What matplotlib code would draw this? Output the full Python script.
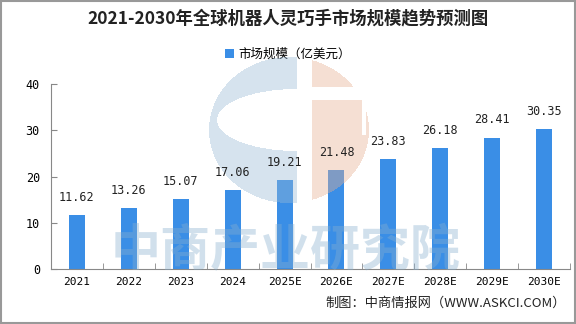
import matplotlib.pyplot as plt
from matplotlib.patches import Rectangle
import numpy as np

plt.rcParams['font.family'] = ['Noto Sans CJK SC', 'DejaVu Sans']

years = ['2021', '2022', '2023', '2024', '2025E', '2026E', '2027E', '2028E', '2029E', '2030E']
market_size = [11.62, 13.26, 15.07, 17.06, 19.21, 21.48, 23.83, 26.18, 28.41, 30.35]

title = '2021-2030年全球机器人灵巧手市场规模趋势预测图'
legend_label = '市场规模（亿美元）'
source = '制图：中商情报网（WWW.ASKCI.COM）'
watermark = '中商产业研究院'
bar_color = '#3a8ee6'

fig = plt.figure(figsize=(5.76, 3.24), dpi=100)

ax = fig.add_axes([51 / 576, 1 - 269 / 324, 519 / 576, 185 / 324], zorder=1)
x = np.arange(len(years))
ax.bar(x, market_size, width=0.31, color=bar_color, label=legend_label, zorder=2)

ax.set_xlim(-0.5, len(years) - 0.5)
ax.set_ylim(0, 40)
ax.set_yticks([0, 10, 20, 30, 40])
ax.set_xticks(x)
ax.set_xticklabels(years, fontsize=8, family=['DejaVu Sans Mono'])
ax.set_xticks(np.arange(len(years) + 1) - 0.5, minor=True)
ax.tick_params(axis='x', which='major', length=0, pad=6)
ax.tick_params(axis='x', which='minor', direction='in', length=4, color='#888888')
ax.tick_params(axis='y', direction='in', length=4, color='#888888', labelsize=8.5, pad=8)
for lbl in ax.get_yticklabels():
    lbl.set_family(['DejaVu Sans Mono'])
for s in ['top', 'right']:
    ax.spines[s].set_visible(False)
ax.spines['left'].set_color('#888888')
ax.spines['bottom'].set_color('#888888')

# watermark overlay in pixel coordinates, semi-transparent over the bars
wm = fig.add_axes([0, 0, 1, 1], zorder=2)
wm.axis('off')
wm.patch.set_alpha(0)

px, py = np.meshgrid(np.arange(576) + 0.5, np.arange(324) + 0.5)
disc = ((px - 289) / 80) ** 2 + ((py - 130) / 73) ** 2 <= 1
hole = ((px - 297) / 80) ** 2 + ((py - 120) / 31) ** 2 <= 1
blue = disc & (px < 297) & ~hole
peach = disc & (px > 312)
peach &= ~((py > 87) & (py < 100) & (px < 363))
peach &= ~((px > 362) & (px < 366) & (py > 87) & (py < 135))
logo = np.zeros((324, 576, 4))
logo[blue] = [0.60, 0.73, 0.84, 0.4]
logo[peach] = [0.91, 0.69, 0.58, 0.4]
wm.imshow(logo, extent=[0, 576, 324, 0], interpolation='nearest', aspect='auto')
wm.set_xlim(0, 576)
wm.set_ylim(324, 0)
wm.text(286, 252, watermark, fontsize=36, color='#87afcf', alpha=0.38, ha='center', va='center',
        fontweight='bold')
wm.add_patch(Rectangle((1, 1), 574, 322, fill=False, ec='#999999', lw=1.5))

# value labels drawn above the watermark
for xi, v in zip(x, market_size):
    wm.annotate(f'{v:.2f}', (xi, v), xycoords=ax.transData, xytext=(0, 8),
                textcoords='offset points', ha='center', va='bottom', fontsize=8.5,
                family=['DejaVu Sans Mono'], color='#222222', zorder=5)

fig.text(0.5, 1 - 18 / 324, title, ha='center', va='center', fontsize=12.5, fontweight='bold',
         color='#222222', zorder=5)
ax.legend(loc='center', bbox_to_anchor=(0.5, 1 - 54 / 324), bbox_transform=fig.transFigure,
          frameon=False, fontsize=9, handlelength=0.7, handleheight=0.7, handletextpad=0.4)
fig.text(566 / 576, 1 - 303 / 324, source, ha='right', va='center', fontsize=9.5, color='#222222',
         zorder=5)

fig.savefig('out.png', dpi=100)
